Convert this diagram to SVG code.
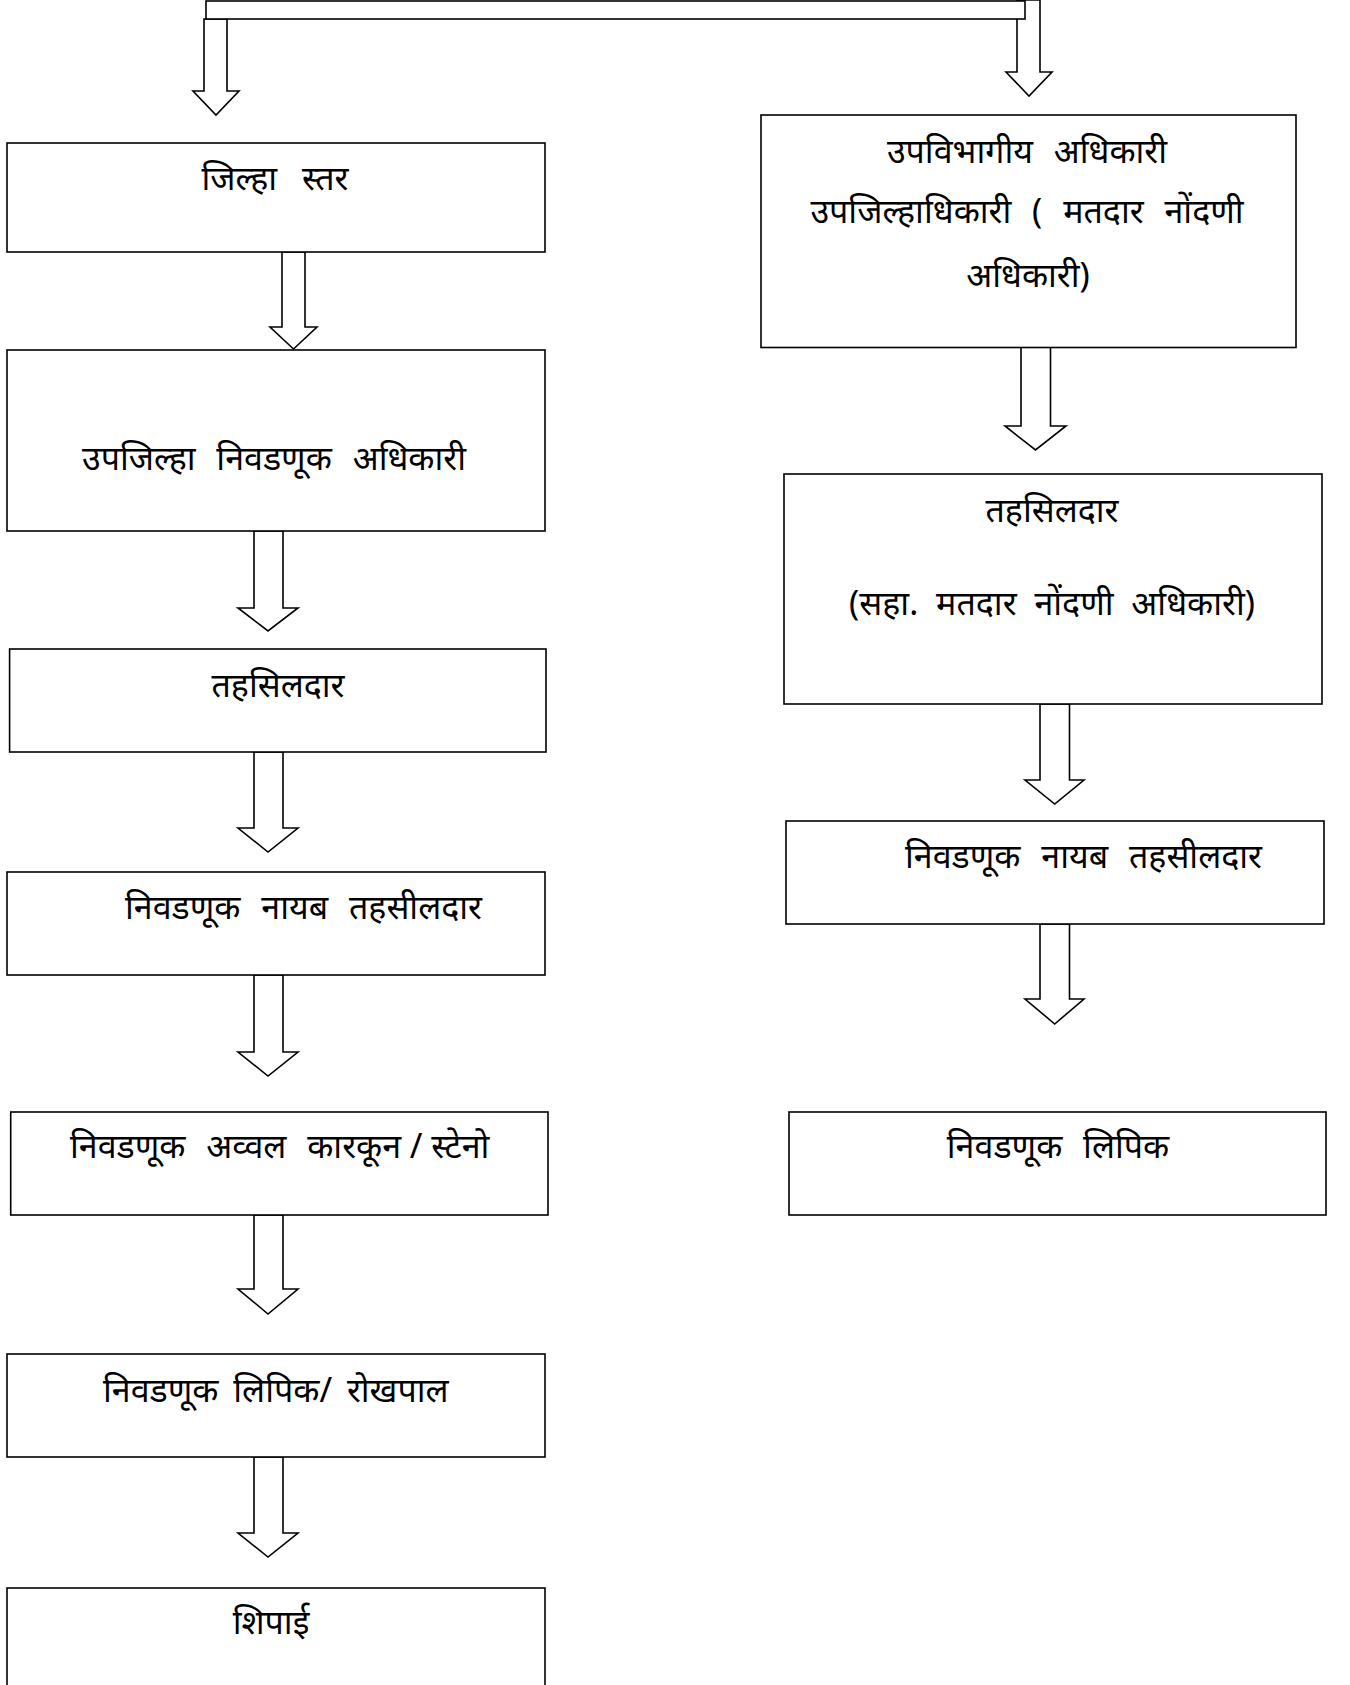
<svg xmlns="http://www.w3.org/2000/svg" width="1350" height="1685" viewBox="0 0 1350 1685">
<style>
.b{fill:#fff;stroke:#000;stroke-width:1.6}
.a{fill:#fff;stroke:#000;stroke-width:1.6;stroke-linejoin:miter}
text{font-family:"Noto Sans",sans-serif;font-size:34px;fill:#000;word-spacing:12px}
.c{text-anchor:middle}
</style>
<rect width="1350" height="1685" fill="#fff"/>
<g id="connectors">
<polygon class="a" points="204,19 227,19 227,91 239,91 216,115 193,91 204,91"/>
<polygon class="a" points="1017,0 1040,0 1040,72 1052,72 1029,96 1006,72 1017,72"/>
<rect class="b" x="206" y="1" width="819" height="18"/>
<polygon class="a" points="282,252 305,252 305,327 317,327 293.5,349 270,327 282,327"/>
<polygon class="a" points="254,531 283,531 283,608 298,608 268,631 238,608 254,608"/>
<polygon class="a" points="254,752 283,752 283,828 298,828 268,852 238,828 254,828"/>
<polygon class="a" points="254,975 283,975 283,1052 298,1052 268,1076 238,1052 254,1052"/>
<polygon class="a" points="254,1215 283,1215 283,1289 298,1289 268,1314 238,1289 254,1289"/>
<polygon class="a" points="254,1457 283,1457 283,1533 298,1533 268,1557 238,1533 254,1533"/>
<polygon class="a" points="1021,347 1050.5,347 1050.5,426 1066,426 1035.5,450 1005,426 1021,426"/>
<polygon class="a" points="1040,704 1069.5,704 1069.5,780 1084,780 1054.7,804 1025,780 1040,780"/>
<polygon class="a" points="1040,924 1069.5,924 1069.5,999 1084,999 1054.7,1024 1025,999 1040,999"/>
</g>
<g id="n-l1"><rect class="b" x="7" y="143" width="538" height="109"/><text class="c" x="275" y="190" style="word-spacing:16px">जिल्हा स्तर</text></g>
<g id="n-l2"><rect class="b" x="7" y="350" width="538" height="181"/><text class="c" x="274" y="470">उपजिल्हा निवडणूक अधिकारी</text></g>
<g id="n-l3"><rect class="b" x="9.6" y="649" width="536.4" height="103"/><text class="c" x="278" y="697">तहसिलदार</text></g>
<g id="n-l4"><rect class="b" x="7" y="872" width="538" height="103"/><text x="125" y="919">निवडणूक नायब तहसीलदार</text></g>
<g id="n-l5"><rect class="b" x="10.7" y="1112" width="537.3" height="103"/><text x="70" y="1158">निवडणूक अव्वल कारकून<tspan style="word-spacing:0"> / स्टेनो</tspan></text></g>
<g id="n-l6"><rect class="b" x="7" y="1354" width="538" height="103"/><text x="103" y="1402" style="word-spacing:6px">निवडणूक लिपिक/ रोखपाल</text></g>
<g id="n-l7"><rect class="b" x="7" y="1588" width="538" height="120"/><text class="c" x="271" y="1634">शिपाई</text></g>
<g id="n-r1"><rect class="b" x="761" y="115" width="535" height="232.5"/>
<text class="c" x="1027" y="163">उपविभागीय अधिकारी</text>
<text class="c" x="1027" y="223">उपजिल्हाधिकारी ( मतदार नोंदणी</text>
<text class="c" x="1028" y="287">अधिकारी)</text></g>
<g id="n-r2"><rect class="b" x="784" y="474" width="538" height="230"/>
<text class="c" x="1052" y="522">तहसिलदार</text>
<text class="c" x="1052" y="615" style="word-spacing:9px">(सहा. मतदार नोंदणी अधिकारी)</text></g>
<g id="n-r3"><rect class="b" x="786" y="821" width="538" height="103"/><text x="905" y="868">निवडणूक नायब तहसीलदार</text></g>
<g id="n-r4"><rect class="b" x="789" y="1112" width="537" height="103"/><text class="c" x="1058" y="1158">निवडणूक लिपिक</text></g>
</svg>
